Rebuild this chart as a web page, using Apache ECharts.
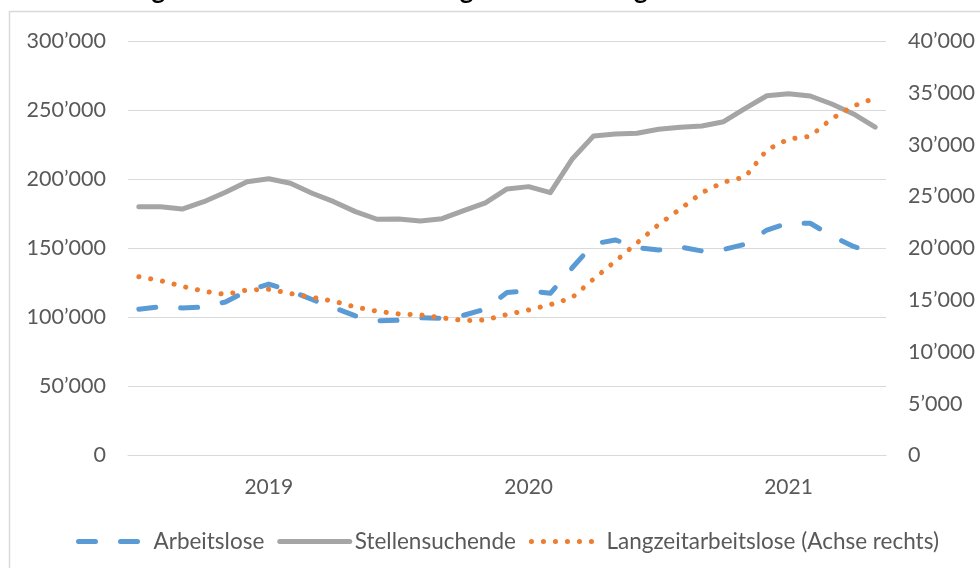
<!DOCTYPE html>
<html>
<head>
<meta charset="utf-8">
<script src="https://cdn.jsdelivr.net/npm/echarts@6/dist/echarts.min.js"></script>
<style>
  html, body { margin: 0; padding: 0; background: #fff; }
  #chart { width: 980px; height: 568px; }
</style>
</head>
<body>
<div id="chart"></div>
<script>
// Monatswerte Juli 2018 bis Mai 2021
var months = [
  '2018-07', '2018-08', '2018-09', '2018-10', '2018-11', '2018-12',
  '2019-01', '2019-02', '2019-03', '2019-04', '2019-05', '2019-06',
  '2019-07', '2019-08', '2019-09', '2019-10', '2019-11', '2019-12',
  '2020-01', '2020-02', '2020-03', '2020-04', '2020-05', '2020-06',
  '2020-07', '2020-08', '2020-09', '2020-10', '2020-11', '2020-12',
  '2021-01', '2021-02', '2021-03', '2021-04', '2021-05'
]

var arbeitslose = [
  105800, 107700, 106800, 107500, 111100, 119100,
  124100, 119100, 112900, 107100, 101000, 97400,
  97900, 99700, 99200, 101500, 106000, 118000,
  119300, 117400, 135700, 153100, 156000, 150500,
  148700, 150900, 148000, 149100, 152900, 163200,
  168300, 168100, 158900, 151300, 146600
]

var stellensuchende = [
  180000, 180000, 178400, 183700, 190500, 198200,
  200300, 197000, 189800, 183700, 176500, 171000,
  171200, 169700, 171400, 177200, 182800, 192900,
  194600, 190200, 214400, 231300, 232700, 233200,
  236100, 237600, 238500, 241600, 251300, 260400,
  261900, 260200, 254400, 247200, 237600
]

var langzeit = [
  17250, 16880, 16330, 15850, 15540, 15970,
  16040, 15630, 15260, 14890, 14330, 13920,
  13660, 13570, 13280, 13020, 13080, 13610,
  14040, 14560, 15220, 17030, 18740, 20510,
  22280, 23790, 25360, 26380, 26880, 29490,
  30540, 30800, 32510, 33730, 34500
]

var seriesNames = ['Arbeitslose', 'Stellensuchende', 'Langzeitarbeitslose (Achse rechts)']

var fontFamily = 'Lato, "Open Sans", sans-serif'
var labelColor = '#595959'

function fmt (v) {
  return String(v).replace(/\B(?=(\d{3})+(?!\d))/g, '\u2019')
}

var option = {
  animation: false,
  backgroundColor: '#fff',
  textStyle: { fontFamily: fontFamily },
  // Titel ist oben abgeschnitten, nur die Unterlängen sind sichtbar
  title: {
    text: 'Entwicklung der Arbeitslosen und Langzeitarbeitslosigkeit',
    left: 18,
    top: -27,
    textStyle: { fontFamily: fontFamily, fontSize: 26, fontWeight: 'bold', color: '#000' }
  },
  graphic: [{
    type: 'rect',
    shape: { x: 9.5, y: 11.5, width: 1000, height: 600 },
    style: { fill: null, stroke: '#d9d9d9', lineWidth: 1.5 },
    silent: true
  }],
  grid: { left: 128, right: 94, top: 41, bottom: 112.5, containLabel: false },
  legend: {
    data: seriesNames,
    left: 76,
    top: 530,
    padding: 0,
    itemWidth: 70,
    itemHeight: 14,
    itemGap: 13,
    lineStyle: { width: 5 },
    itemStyle: { opacity: 0 },
    textStyle: { fontFamily: fontFamily, fontSize: 22.5, color: labelColor }
  },
  xAxis: {
    type: 'category',
    data: months,
    boundaryGap: true,
    axisLine: { lineStyle: { color: '#d9d9d9', width: 1 } },
    axisTick: { show: false },
    axisLabel: {
      interval: function (i) { return i % 12 === 6 },
      formatter: function (v) { return v.slice(0, 4) },
      margin: 21,
      fontSize: 21,
      color: labelColor,
      fontFamily: fontFamily
    }
  },
  yAxis: [{
    type: 'value',
    min: 0,
    max: 300000,
    interval: 50000,
    axisLine: { show: false },
    axisTick: { show: false },
    splitLine: { lineStyle: { color: '#d9d9d9', width: 1 } },
    axisLabel: { formatter: fmt, margin: 22, fontSize: 21.5, color: labelColor, fontFamily: fontFamily }
  }, {
    type: 'value',
    min: 0,
    max: 40000,
    interval: 5000,
    axisLine: { show: false },
    axisTick: { show: false },
    splitLine: { show: false },
    axisLabel: { formatter: fmt, margin: 22, fontSize: 21.5, color: labelColor, fontFamily: fontFamily }
  }],
  series: [{
    name: seriesNames[0],
    type: 'line',
    data: arbeitslose,
    yAxisIndex: 0,
    symbol: 'none',
    color: '#5b9bd5',
    lineStyle: { width: 5, type: [17, 25], cap: 'round', join: 'round' }
  }, {
    name: seriesNames[1],
    type: 'line',
    data: stellensuchende,
    yAxisIndex: 0,
    symbol: 'none',
    color: '#a5a5a5',
    lineStyle: { width: 5, cap: 'round', join: 'round' }
  }, {
    name: seriesNames[2],
    type: 'line',
    data: langzeit,
    yAxisIndex: 1,
    symbol: 'none',
    color: '#ed7d31',
    lineStyle: { width: 5, type: [0.1, 11.9], cap: 'round', join: 'round' }
  }]
}

var chart = echarts.init(document.getElementById('chart'), null, { renderer: 'canvas' })
chart.setOption(option)
</script>
</body>
</html>
